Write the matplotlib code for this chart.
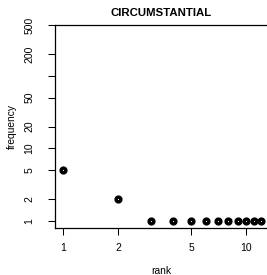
import numpy as np
import matplotlib.pyplot as plt

plt.rcParams['font.family'] = ['Liberation Sans', 'DejaVu Sans']

# rank / frequency data
rank = np.arange(1, 13)
frequency = np.array([5, 2, 1, 1, 1, 1, 1, 1, 1, 1, 1, 1])

x_ticks = [1, 2, 5, 10]
y_ticks = [1, 2, 5, 10, 20, 50, 100, 200, 500]
y_tick_labels = ['1', '2', '5', '10', '20', '50', '', '200', '500']

fig = plt.figure(figsize=(2.67, 2.75), dpi=100)
ax = fig.add_axes([0.206, 0.172, 0.794, 0.737])

ax.plot(rank, frequency, 'o', markersize=3.4, markerfacecolor='white',
        markeredgecolor='black', markeredgewidth=2.5, clip_on=False)

ax.set_xscale('log')
ax.set_yscale('log')
ax.set_xlim(0.901, 13.0)
ax.set_ylim(0.80, 505)

ax.set_xticks(x_ticks)
ax.set_xticklabels([str(t) for t in x_ticks])
ax.set_yticks(y_ticks)
ax.set_yticklabels(y_tick_labels, rotation=90, va='center')
ax.minorticks_off()

ax.tick_params(axis='x', length=5, width=0.75, pad=6, labelsize=7.5)
ax.tick_params(axis='y', length=5, width=0.75, pad=10, labelsize=7.5)

for side in ['left', 'bottom', 'top']:
    ax.spines[side].set_linewidth(0.9)
ax.spines['right'].set_visible(False)

fig.text(0.605, 0.954, 'CIRCUMSTANTIAL', ha='center', va='center',
         fontsize=8.2, fontweight='bold')
fig.text(0.605, 0.016, 'rank', ha='center', va='center', fontsize=7.4)
fig.text(0.045, 0.54, 'frequency', ha='center', va='center',
         rotation=90, fontsize=7.4)

fig.savefig('out.png', dpi=100)
